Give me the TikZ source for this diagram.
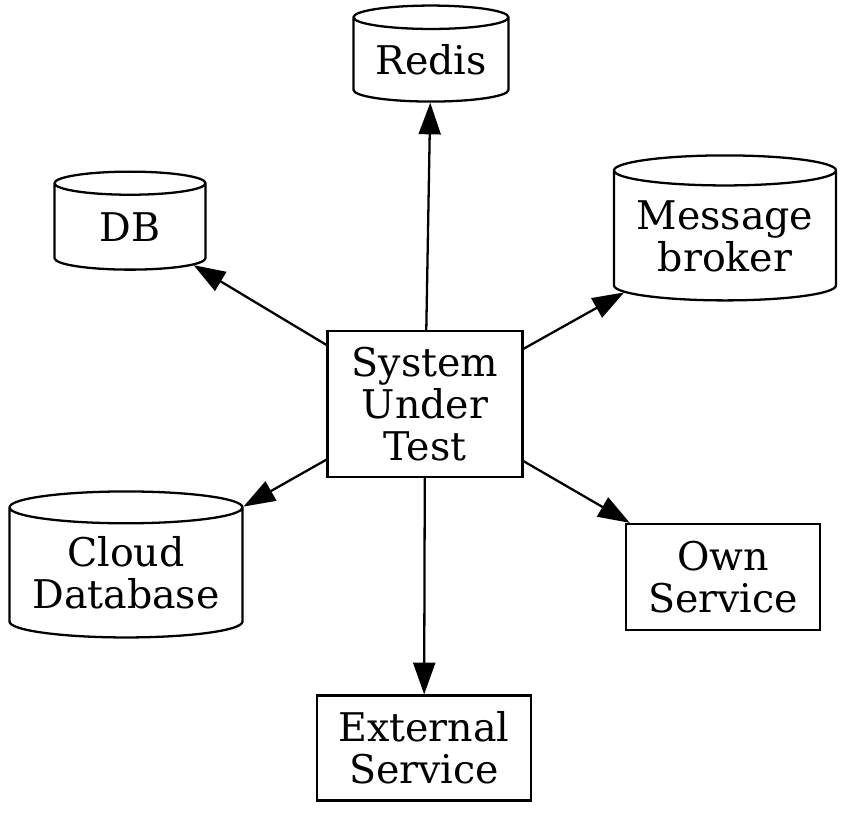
\documentclass[tikz,border=0pt]{standalone}
\usepackage{fontspec}
\setmainfont{DejaVu Serif}
\usetikzlibrary{shapes.geometric,arrows.meta}

\begin{document}
\begin{tikzpicture}[line width=1.3pt]
	\useasboundingbox (0,0) rectangle (16.96,16.26);
	\tikzstyle{every node}=[font=\fontsize{22.5}{24}\selectfont, align=center, line width=1.3pt];
	\tikzstyle{box}=[draw, rectangle, inner sep=0pt];
	\tikzstyle{db}=[draw, cylinder, shape border rotate=90, aspect=0.2, inner sep=0pt];
	\tikzstyle{dep}=[-{Triangle[length=18pt,width=12.5pt]}];
	\path (8.50,8.18) node[box, minimum width=3.9cm, minimum height=2.92cm] (sut) {System\\Under\\Test};
	\path (8.62,15.06) node[db, aspect=0.21, minimum width=3.1cm, minimum height=1.92cm] (redis) {Redis};
	\path (2.60,11.72) node[db, aspect=0.38, minimum width=3.02cm, minimum height=1.96cm] (db) {DB};
	\path (14.50,11.54) node[db, aspect=0.17, minimum width=4.44cm, minimum height=2.9cm] (broker) {Message\\broker};
	\path (2.52,4.80) node[db, aspect=0.17, minimum width=4.66cm, minimum height=2.92cm] (cloud) {Cloud\\Database};
	\path (14.46,4.72) node[box, minimum width=3.88cm, minimum height=2.12cm] (own) {Own\\Service};
	\path (8.48,1.30) node[box, minimum width=4.28cm, minimum height=2.1cm] (ext) {External\\Service};
	\draw[dep] (sut) -- (redis);
	\draw[dep] (sut) -- (db);
	\draw[dep] (sut) -- (broker);
	\draw[dep] (sut) -- (cloud);
	\draw[dep] (sut) -- (own);
	\draw[dep] (sut) -- (ext);
\end{tikzpicture}
\end{document}
